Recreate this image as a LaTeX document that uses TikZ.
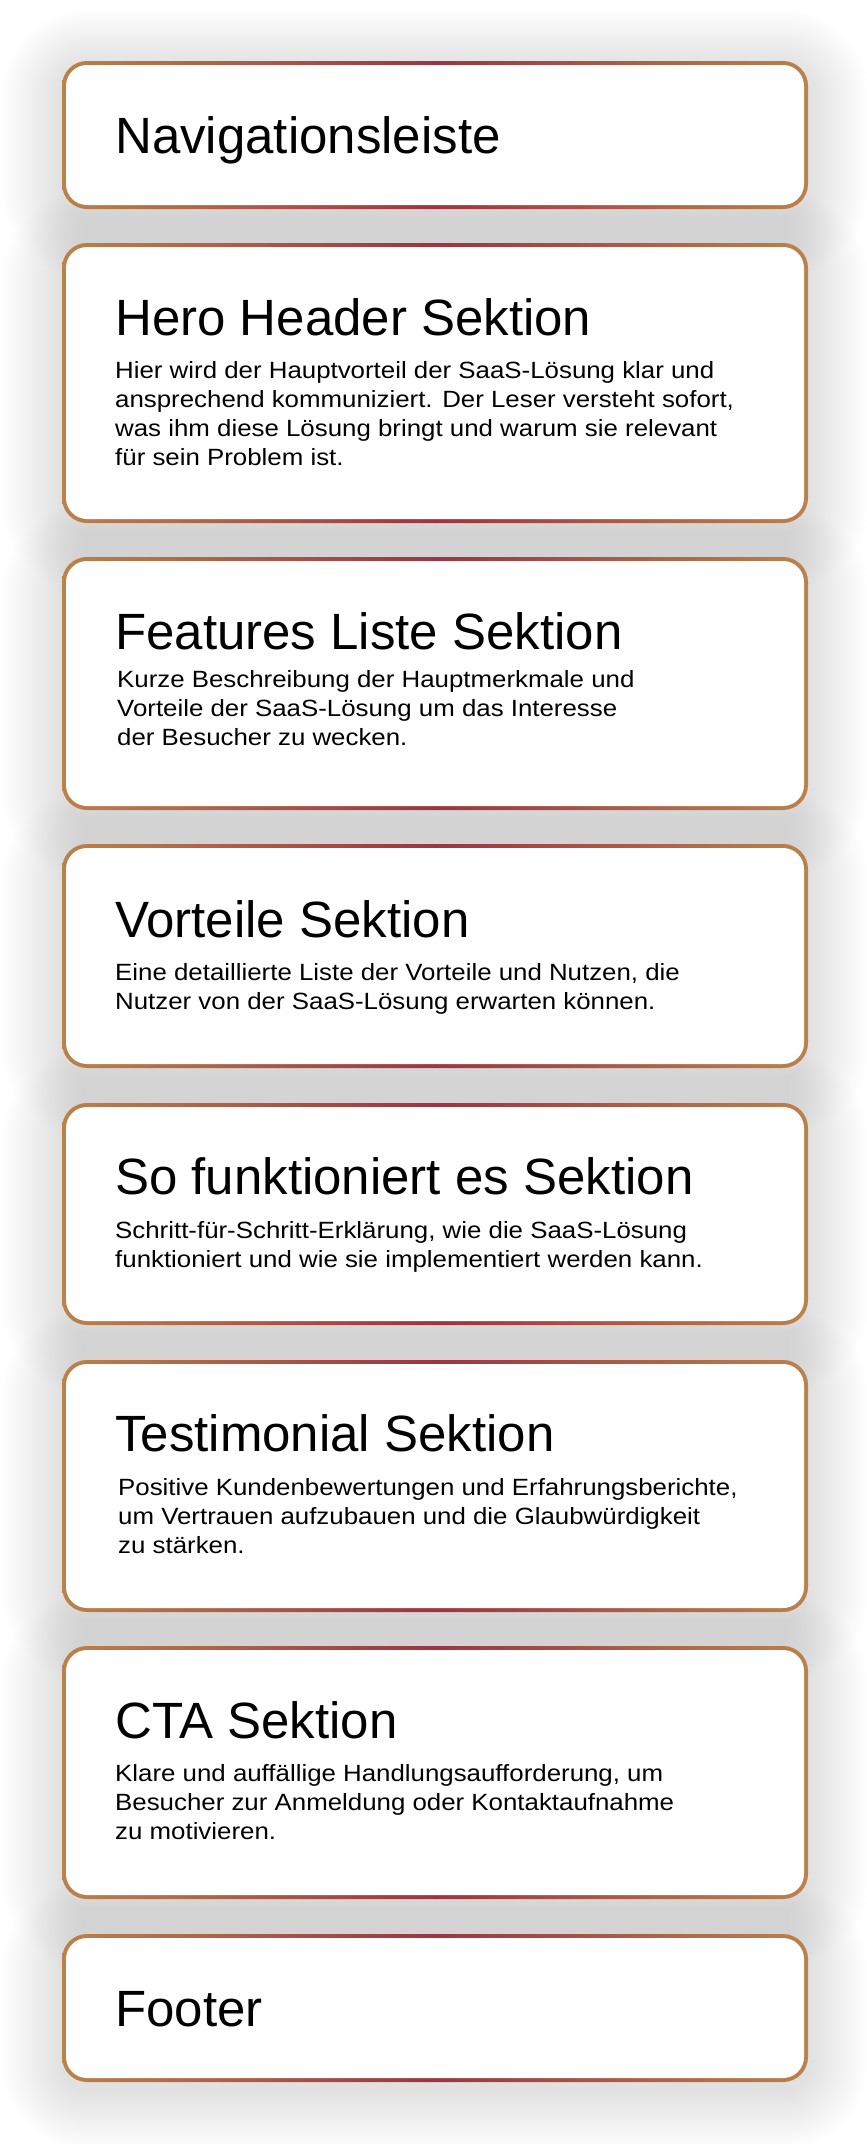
\documentclass[tikz,border=0pt]{standalone}
\usepackage{fontspec}
\setmainfont{Liberation Sans}
\newfontfamily\bodyfont[FakeStretch=1.1]{Liberation Sans}
\definecolor{rimTan}{RGB}{187,130,74}
\definecolor{rimRed}{RGB}{158,52,64}
\tikzset{
  title/.style={anchor=base west, inner sep=0pt, font=\fontsize{51}{60}\selectfont},
  body/.style={anchor=base west, inner sep=0pt, align=left, font=\bodyfont\fontsize{23.5}{28.7}\selectfont},
}
\begin{document}
\begin{tikzpicture}[x=1pt, y=-1pt]
\fill[white] (0,0) rectangle (867,2144);
\useasboundingbox (0,0) rectangle (867,2144);
%shadows first
\foreach \t/\b in {61/209, 243/523, 557/810, 844/1068, 1103/1325, 1360/1612, 1646/1899, 1934/2082}
  \foreach \r in {1,...,30}
    \fill[black, opacity=0.004, rounded corners=25+2*\r] (62-2*\r,\t+8-2*\r) rectangle (808+2*\r,\b+8+2*\r);
%boxes
\foreach \t/\b in {61/209, 243/523, 557/810, 844/1068, 1103/1325, 1360/1612, 1646/1899, 1934/2082}{
  \shade[left color=rimTan, right color=rimTan, middle color=rimRed, rounded corners=25] (62,\t) rectangle (808,\b);
  \fill[white, rounded corners=21] (66,\t+4) rectangle (804,\b-4);
}

\node[title] at (115,153) (nav) {Navigationsleiste};
%hero (body nodes sit on their last line)
\node[title] at (115,335) (hero) {Hero Header Sektion};
\node[body] at (115,465) (heroText) {Hier wird der Hauptvorteil der SaaS-Lösung klar und\\ansprechend kommuniziert. Der Leser versteht sofort,\\was ihm diese Lösung bringt und warum sie relevant\\für sein Problem ist.};
%features
\node[title] at (115,649) (feat) {Features Liste Sektion};
\node[body] at (117,745) (featText) {Kurze Beschreibung der Hauptmerkmale und\\Vorteile der SaaS-Lösung um das Interesse\\der Besucher zu wecken.};
%vorteile
\node[title] at (115,937) (vort) {Vorteile Sektion};
\node[body] at (115,1009) (vortText) {Eine detaillierte Liste der Vorteile und Nutzen, die\\Nutzer von der SaaS-Lösung erwarten können.};
%so funktioniert es
\node[title] at (115,1194) (howto) {So funktioniert es Sektion};
\node[body] at (115,1267) (howtoText) {Schritt-für-Schritt-Erklärung, wie die SaaS-Lösung\\funktioniert und wie sie implementiert werden kann.};
%testimonial
\node[title] at (115,1451) (testi) {Testimonial Sektion};
\node[body] at (118,1553) (testiText) {Positive Kundenbewertungen und Erfahrungsberichte,\\um Vertrauen aufzubauen und die Glaubwürdigkeit\\zu stärken.};
%cta
\node[title] at (115,1738) (cta) {CTA Sektion};
\node[body] at (115,1839) (ctaText) {Klare und auffällige Handlungsaufforderung, um\\Besucher zur Anmeldung oder Kontaktaufnahme\\zu motivieren.};
%footer
\node[title] at (115,2026) (footer) {Footer};
\end{tikzpicture}
\end{document}
